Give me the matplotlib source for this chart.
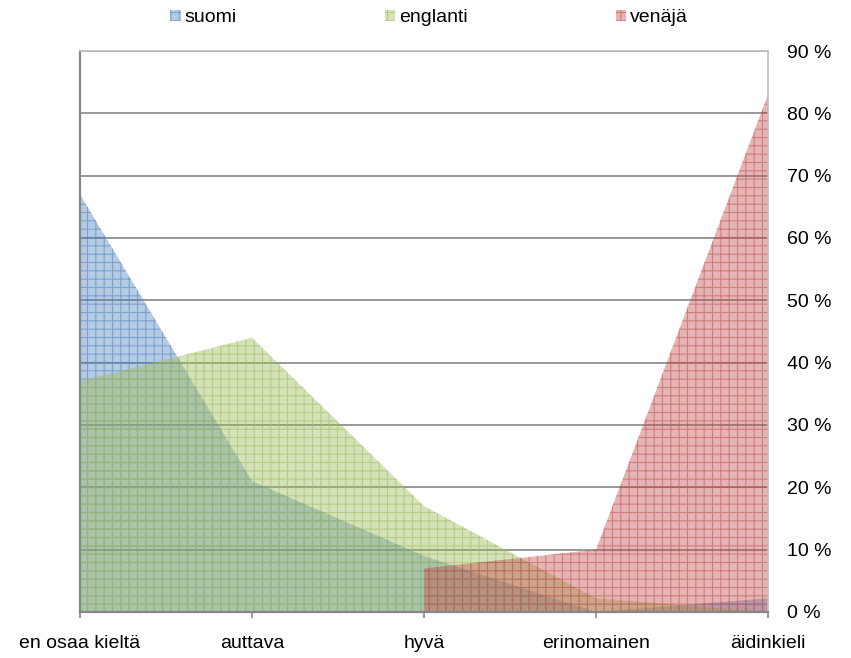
import numpy as np
import matplotlib
matplotlib.use("Agg")
import matplotlib.pyplot as plt
import matplotlib.ticker as mtick
import matplotlib.patches as mpatches
import matplotlib.colors as mcolors

plt.rcParams['font.family'] = ['Liberation Sans', 'DejaVu Sans']
plt.rcParams['hatch.linewidth'] = 0.8

# data (share of respondents)
categories = ['en osaa kieltä', 'auttava', 'hyvä', 'erinomainen', 'äidinkieli']
suomi = [0.67, 0.21, 0.09, 0.0, 0.022]
englanti = [0.37, 0.44, 0.17, 0.022, 0.0]
venaja = [np.nan, np.nan, 0.07, 0.10, 0.83]

series = [('suomi', suomi, '#4F81BD'),
          ('englanti', englanti, '#9BBB59'),
          ('venäjä', venaja, '#C0504D')]

fig = plt.figure(figsize=(8.51, 6.58), dpi=100)
ax = fig.add_axes([80 / 851, 1 - 612 / 658, 688 / 851, 561 / 658])

x = np.arange(len(categories))
handles = []
for name, vals, col in series:
    face = mcolors.to_rgba(col, 0.42)
    edge = mcolors.to_rgba(col, 0.55)
    ax.fill_between(x, 0, np.array(vals, dtype=float), facecolor=face,
                    edgecolor=edge, hatch='++', linewidth=0, zorder=2)
    handles.append(mpatches.Patch(facecolor=face, edgecolor=edge, hatch='++',
                                  linewidth=0, label=name))

ax.set_xlim(0, len(categories) - 1)
ax.set_ylim(0, 0.9)
ax.set_yticks(np.arange(0, 0.91, 0.1))
ax.yaxis.set_major_formatter(mtick.FuncFormatter(lambda v, p: f"{v*100:.0f} %"))
ax.yaxis.tick_right()
ax.tick_params(axis='y', length=0, pad=14, labelsize=14)
ax.set_xticks(x)
ax.set_xticklabels(categories)
ax.tick_params(axis='x', length=4.5, width=1.2, color='#868686', pad=12, labelsize=14)

ax.grid(axis='y', color='#868686', linewidth=1.2, zorder=1)
ax.set_axisbelow(True)
ax.grid(axis='x', visible=False)

for side in ['top', 'right']:
    ax.spines[side].set_color('#BFBFBF')
    ax.spines[side].set_linewidth(1.2)
for side in ['left', 'bottom']:
    ax.spines[side].set_color('#868686')
    ax.spines[side].set_linewidth(1.6)

fig.legend(handles=handles, loc='center left', bbox_to_anchor=(170 / 851, 1 - 18 / 658),
           ncol=3, frameon=False, fontsize=14, handlelength=0.55, handleheight=0.55,
           handletextpad=0.2, columnspacing=7.6, borderaxespad=0, borderpad=0)

fig.savefig('out.png', dpi=100)
